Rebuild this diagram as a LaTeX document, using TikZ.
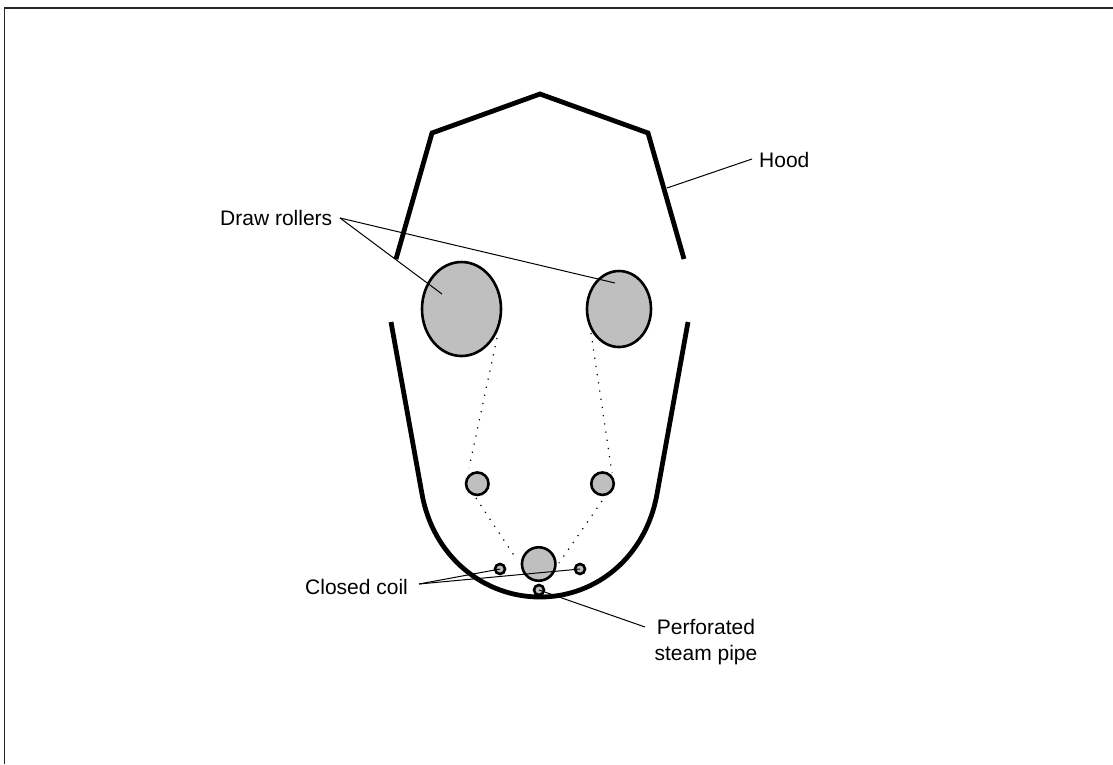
\documentclass[tikz,border=0pt]{standalone}
\usepackage{fontspec}
\setmainfont{Liberation Sans}
\tikzset{
  wall/.style={line width=4.8pt,black,line join=miter},
  roller/.style={draw=black,fill=black!25,line width=2.6pt,ellipse,inner sep=0pt,minimum width=#1},
  leader/.style={line width=1pt,black},
  guide/.style={line width=1.2pt,black,dash pattern=on 1.2pt off 7.1pt},
  lab/.style={font=\fontsize{21}{26.5}\selectfont,align=center,inner sep=0pt,text=black}
}
\usetikzlibrary{shapes.geometric}
\begin{document}
\begin{tikzpicture}[x=1pt,y=-1pt]
\useasboundingbox (0,0) rectangle (1113,764);
\fill[white] (0,0) rectangle (1113,764);
\draw[line width=1.3pt,black!85] (4.5,764) -- (4.5,8) -- (1113,8);
% hood
\draw[wall] (396,259) -- (432,133) -- (540,94) -- (648,133) -- (684,259);
% vat
\draw[wall] (391,322) -- (422,494) .. controls (433,556) and (483,597) .. (540,597) .. controls (597,597) and (646,556) .. (657,494) -- (688,322);
% rollers
\node[roller=79pt,minimum height=94pt] (rl) at (461.5,309) {};
\node[roller=64pt,minimum height=76pt] (rr) at (619,309) {};
\node[roller=22.5pt,minimum height=22.5pt] (ml) at (477.3,483.7) {};
\node[roller=22.5pt,minimum height=22.5pt] (mr) at (602.5,483.7) {};
\node[roller=33.5pt,minimum height=33.5pt] (bc) at (538.7,564) {};
\node[roller=10pt,minimum height=10pt] (cl) at (500,569) {};
\node[roller=10pt,minimum height=10pt] (cr) at (580,569) {};
\node[roller=10pt,minimum height=10pt] (pp) at (539,590) {};
% fabric path
\coordinate (g1) at (497,338);
\coordinate (g2) at (469,468);
\coordinate (g3) at (591,333);
\coordinate (g4) at (612,473);
\coordinate (g5) at (476,498);
\coordinate (g6) at (517,560);
\coordinate (g7) at (602,501);
\coordinate (g8) at (559,563);
\draw[guide] (g1) -- (g2);
\draw[guide] (g3) -- (g4);
\draw[guide] (g5) -- (g6);
\draw[guide] (g7) -- (g8);
% labels
\node[lab,anchor=west] (tdr) at (220,218) {Draw rollers};
\node[lab,anchor=west] (tcc) at (305,587) {Closed coil};
\node[lab] (tpp) at (706,642) {Perforated\\steam pipe};
\node[lab,anchor=west] (thd) at (759,160) {Hood};
% leader ends
\coordinate (drs) at (340,218);
\coordinate (dre1) at (442,294);
\coordinate (dre2) at (615,283);
\coordinate (ccs) at (419,584);
\coordinate (hds) at (752,159);
\coordinate (hde) at (667,188);
\coordinate (pps) at (645,627);
\draw[leader] (drs) -- (dre1);
\draw[leader] (drs) -- (dre2);
\draw[leader] (ccs) -- (cl.center);
\draw[leader] (ccs) -- (cr.center);
\draw[leader] (pps) -- (pp.center);
\draw[leader] (hds) -- (hde);
\end{tikzpicture}
\end{document}
